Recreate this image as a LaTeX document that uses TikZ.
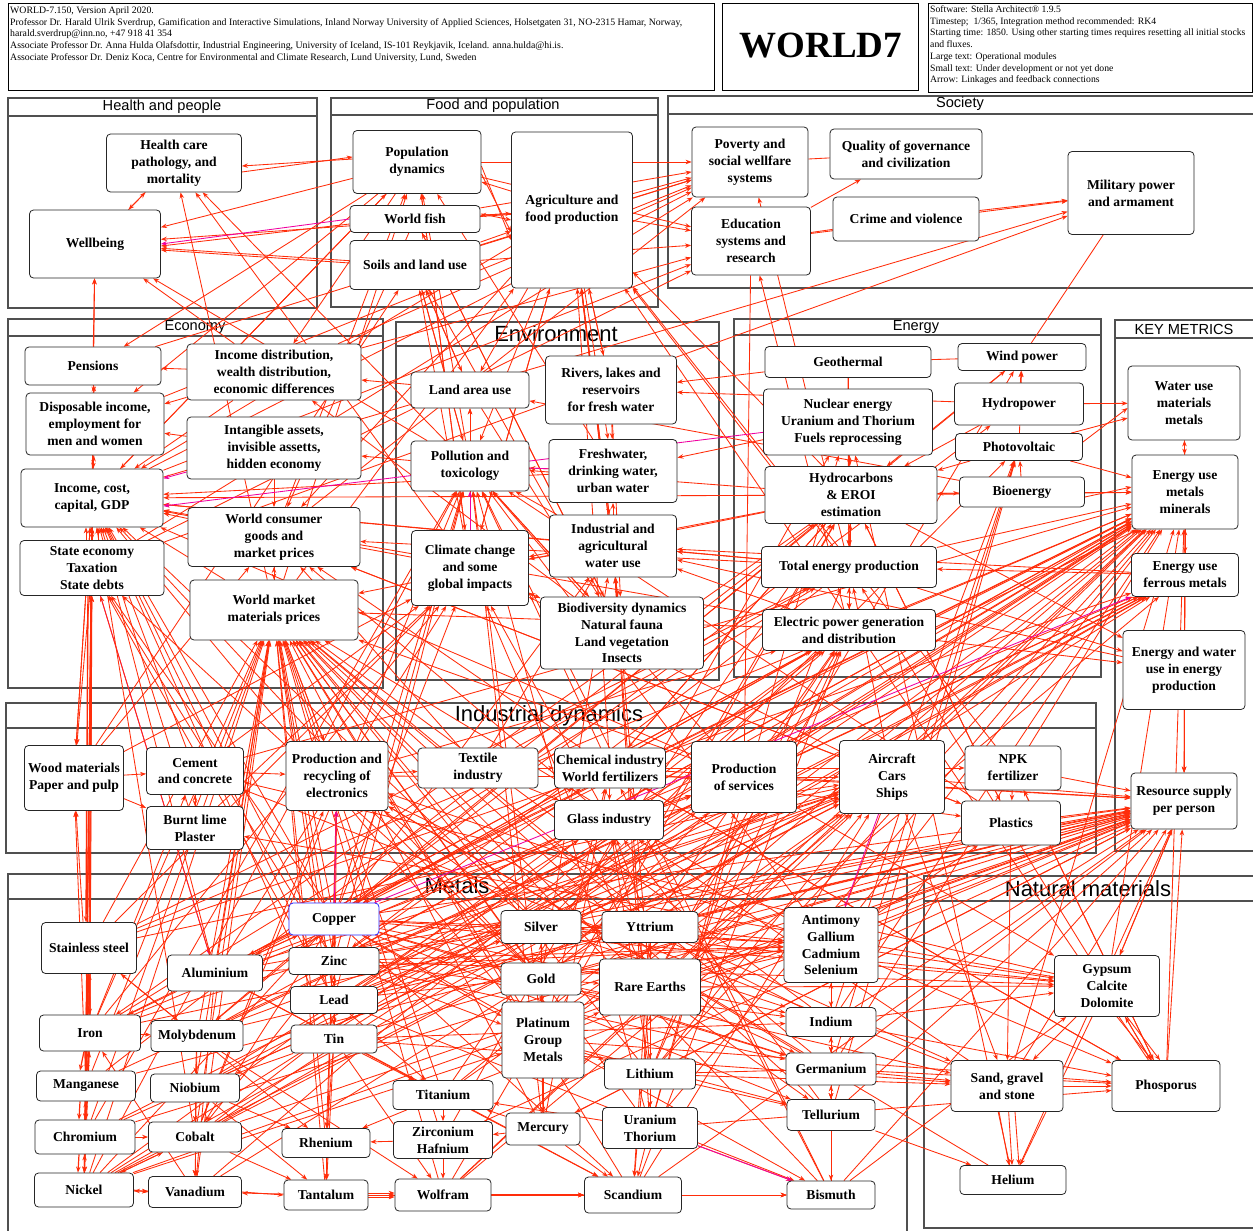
\documentclass[tikz,border=0pt]{standalone}
\usepackage{fontspec}
\setmainfont{Liberation Serif}
\newfontfamily\titlefont{Liberation Sans}
\usetikzlibrary{arrows.meta}
\definecolor{linkred}{RGB}{255,45,10}
\definecolor{linkpink}{RGB}{240,0,160}
\definecolor{framegray}{RGB}{80,80,80}
\definecolor{copperblue}{RGB}{40,40,255}
\pgfdeclarelayer{back}
\pgfdeclarelayer{links}
\pgfsetlayers{back,links,main}
\tikzset{
  box/.style={draw=black!85, fill=white, rounded corners=4pt, line width=0.8pt,
    align=center, inner sep=1pt, font=\bfseries\fontsize{13.6}{16.8}\selectfont},
  lk/.style={draw=linkred, line width=0.85pt, -{Stealth[length=6pt,width=4.5pt]}},
  lkp/.style={lk, draw=linkpink},
  ln/.style={draw=linkred, line width=0.85pt},
  modframe/.style={draw=framegray, line width=1.1pt},
  modtitle/.style={font=\titlefont\fontsize{14.6}{14.6}\selectfont},
  bigtitle/.style={font=\titlefont\fontsize{22}{22}\selectfont},
  headtext/.style={anchor=north west, align=left, inner sep=0pt},
}
\begin{document}
\begin{tikzpicture}[x=1pt,y=-1pt]
\useasboundingbox (0,0) rectangle (1253,1231);

% ---------- header ----------
\begin{pgfonlayer}{back}
\fill[white] (0,0) rectangle (1253,1231);
\draw[black, line width=1pt] (8,4) rectangle (714,90);
\draw[black, line width=1pt] (722,4) rectangle (918,90);
\draw[black, line width=1pt] (928,4) rectangle (1252,92);
\end{pgfonlayer}
\node[headtext, font=\fontsize{9.8}{11.7}\selectfont] (credits) at (10,6.5) {WORLD-7.150, Version April 2020.\\
Professor Dr. Harald Ulrik Sverdrup, Gamification and Interactive Simulations, Inland Norway University of Applied Sciences, Holsetgaten 31, NO-2315 Hamar, Norway,\\
harald.sverdrup@inn.no, +47 918 41 354\\
Associate Professor Dr. Anna Hulda Olafsdottir, Industrial Engineering, University of Iceland, IS-101 Reykjavik, Iceland. anna.hulda@hi.is.\\
Associate Professor Dr. Deniz Koca, Centre for Environmental and Climate Research, Lund University, Lund, Sweden};
\node[font=\bfseries\fontsize{37}{37}\selectfont] (logo) at (821,46) {WORLD7};
\node[headtext, font=\fontsize{9.7}{11.7}\selectfont] (software) at (930,5.5) {Software: Stella Architect® 1.9.5\\
Timestep;~ 1/365, Integration method recommended: RK4\\
Starting time: 1850. Using other starting times requires resetting all initial stocks\\
and fluxes.\\
Large text: Operational modules\\
Small text: Under development or not yet done\\
Arrow: Linkages and feedback connections};

% ---------- module frames ----------
\begin{pgfonlayer}{back}
\draw[modframe] (8,98) rectangle (317,308);   \draw[modframe] (8,116) -- (317,116);
\draw[modframe] (331,98) rectangle (658,307); \draw[modframe] (331,115) -- (658,115);
\draw[modframe] (668,96) rectangle (1258,288); \draw[modframe] (668,114) -- (1258,114);
\draw[modframe] (8,319) rectangle (383,688);  \draw[modframe] (8,336) -- (383,336);
\draw[modframe] (396,322) rectangle (719,680); \draw[modframe] (396,346) -- (719,346);
\draw[modframe] (734,319) rectangle (1101,677); \draw[modframe] (734,335) -- (1101,335);
\draw[modframe] (1115,320) rectangle (1258,851); \draw[modframe] (1115,338) -- (1258,338);
\draw[modframe] (6,703) rectangle (1096,853); \draw[modframe] (6,728) -- (1096,728);
\draw[modframe] (8,874) rectangle (907,1240); \draw[modframe] (8,899) -- (907,899);
\draw[modframe] (924,876) rectangle (1258,1228); \draw[modframe] (924,901) -- (1258,901);
\node[modtitle] (tHealth) at (162,107) {Health and people};
\node[modtitle] (tFood) at (493,106) {Food and population};
\node[modtitle] (tSociety) at (960,104) {Society};
\node[modtitle] (tEconomy) at (195,327) {Economy};
\node[bigtitle] (tEnv) at (556,334) {Environment};
\node[modtitle] (tEnergy) at (916,327) {Energy};
\node[modtitle] (tKey) at (1184,329) {KEY METRICS};
\node[bigtitle] (tInd) at (549,716) {Industrial dynamics};
\node[bigtitle] (tMetals) at (457,886) {Metals};
\node[bigtitle] (tNat) at (1088,889) {Natural materials};
\end{pgfonlayer}

% ---------- Health and people ----------
\node[box, minimum width=135pt, minimum height=58pt] (hcare) at (174,163) {Health care\\pathology, and\\mortality};
\node[box, minimum width=131pt, minimum height=68pt] (wellb) at (95,244) {Wellbeing};
% ---------- Food and population ----------
\node[box, minimum width=128pt, minimum height=63pt] (popd) at (417,162) {Population\\dynamics};
\node[box, minimum width=130pt, minimum height=27pt] (wfish) at (415,219) {World fish};
\node[box, minimum width=130pt, minimum height=49pt] (soil) at (415,265) {Soils and land use};
\node[box, minimum width=121pt, minimum height=156pt] (agri) at (572,210) {Agriculture and\\food production};
% ---------- Society ----------
\node[box, minimum width=116pt, minimum height=70pt] (pov) at (750,162) {Poverty and\\social wellfare\\systems};
\node[box, minimum width=152pt, minimum height=50pt] (gov) at (906,154) {Quality of governance\\and civilization};
\node[box, minimum width=119pt, minimum height=68pt] (edu) at (751,241) {Education\\systems and\\research};
\node[box, minimum width=146pt, minimum height=44pt] (crime) at (906,219) {Crime and violence};
\node[box, minimum width=126pt, minimum height=83pt] (mil) at (1131,193) {Military power\\and armament};
% ---------- Economy ----------
\node[box, minimum width=136pt, minimum height=38pt] (pens) at (93,366) {Pensions};
\node[box, minimum width=174pt, minimum height=56pt] (incd) at (274,372) {Income distribution,\\wealth distribution,\\economic differences};
\node[box, minimum width=138pt, minimum height=62pt] (disp) at (95,424) {Disposable income,\\employment for\\men and women};
\node[box, minimum width=174pt, minimum height=62pt] (intg) at (274,448) {Intangible assets,\\invisible assetts,\\hidden economy};
\node[box, minimum width=142pt, minimum height=58pt] (income) at (92,498) {Income, cost,\\capital, GDP};
\node[box, minimum width=172pt, minimum height=59pt] (wcg) at (274,537) {World consumer\\goods and\\market prices};
\node[box, minimum width=144pt, minimum height=55pt] (state) at (92,568) {State economy\\Taxation\\State debts};
\node[box, minimum width=168pt, minimum height=60pt] (wmp) at (274,610) {World market\\materials prices};
% ---------- Environment ----------
\node[box, minimum width=118pt, minimum height=36pt] (land) at (470,390) {Land area use};
\node[box, minimum width=131pt, minimum height=68pt] (rivers) at (611,390) {Rivers, lakes and\\reservoirs\\for fresh water};
\node[box, minimum width=118pt, minimum height=50pt] (pollu) at (470,466) {Pollution and\\toxicology};
\node[box, minimum width=128pt, minimum height=63pt] (fresh) at (613,471) {Freshwater,\\drinking water,\\urban water};
\node[box, minimum width=127pt, minimum height=62pt] (indw) at (613,546) {Industrial and\\agricultural\\water use};
\node[box, minimum width=117pt, minimum height=75pt] (climate) at (470,568) {Climate change\\and some\\global impacts};
\node[box, minimum width=163pt, minimum height=72pt] (biod) at (622,633) {Biodiversity dynamics\\Natural fauna\\Land vegetation\\Insects};
% ---------- Energy ----------
\node[box, minimum width=166pt, minimum height=31pt] (geo) at (848,362) {Geothermal};
\node[box, minimum width=128pt, minimum height=27pt] (wind) at (1022,357) {Wind power};
\node[box, minimum width=169pt, minimum height=66pt] (nuc) at (848,422) {Nuclear energy\\Uranium and Thorium\\Fuels reprocessing};
\node[box, minimum width=129pt, minimum height=42pt] (hydro) at (1019,404) {Hydropower};
\node[box, minimum width=127pt, minimum height=27pt] (pv) at (1019,447) {Photovoltaic};
\node[box, minimum width=172pt, minimum height=57pt] (hcarb) at (851,495) {Hydrocarbons\\\& EROI\\estimation};
\node[box, minimum width=125pt, minimum height=30pt] (bioe) at (1022,492) {Bioenergy};
\node[box, minimum width=175pt, minimum height=41pt] (toten) at (849,567) {Total energy production};
\node[box, minimum width=173pt, minimum height=41pt] (elec) at (849,630) {Electric power generation\\and distribution};
% ---------- Key metrics ----------
\node[box, minimum width=112pt, minimum height=74pt] (wuse) at (1184,403) {Water use\\materials\\metals};
\node[box, minimum width=106pt, minimum height=74pt] (euse) at (1185,492) {Energy use\\metals\\minerals};
\node[box, minimum width=107pt, minimum height=43pt] (eferr) at (1185,575) {Energy use\\ferrous metals};
\node[box, minimum width=122pt, minimum height=79pt] (ewat) at (1184,670) {Energy and water\\use in energy\\production};
\node[box, minimum width=106pt, minimum height=56pt] (rsup) at (1184,801) {Resource supply\\per person};
% ---------- Industrial dynamics ----------
\node[box, minimum width=99pt, minimum height=65pt] (wood) at (74,778) {Wood materials\\Paper and pulp};
\node[box, minimum width=97pt, minimum height=47pt] (cement) at (195,771) {Cement\\and concrete};
\node[box, minimum width=97pt, minimum height=43pt] (lime) at (195,828) {Burnt lime\\Plaster};
\node[box, minimum width=102pt, minimum height=69pt] (elecx) at (337,776) {Production and\\recycling of\\electronics};
\node[box, minimum width=120pt, minimum height=40pt] (textile) at (478,768) {Textile\\industry};
\node[box, minimum width=111pt, minimum height=40pt] (chem) at (610,768) {Chemical industry\\World fertilizers};
\node[box, minimum width=109pt, minimum height=39pt] (glass) at (609,820) {Glass industry};
\node[box, minimum width=105pt, minimum height=71pt] (serv) at (744,777) {Production\\of services};
\node[box, minimum width=105pt, minimum height=73pt] (cars) at (892,777) {Aircraft\\Cars\\Ships};
\node[box, minimum width=96pt, minimum height=44pt] (npk) at (1013,768) {NPK\\fertilizer};
\node[box, minimum width=99pt, minimum height=44pt] (plast) at (1011,823) {Plastics};
% ---------- Metals ----------
\node[box, draw=copperblue, minimum width=90pt, minimum height=32pt] (copper) at (334,919) {Copper};
\node[box, minimum width=95pt, minimum height=51pt] (sst) at (89,948) {Stainless steel};
\node[box, minimum width=95pt, minimum height=36pt] (alu) at (215,973) {Aluminium};
\node[box, minimum width=90pt, minimum height=27pt] (zinc) at (334,961) {Zinc};
\node[box, minimum width=87pt, minimum height=27pt] (lead) at (334,1000) {Lead};
\node[box, minimum width=101pt, minimum height=36pt] (iron) at (90,1033) {Iron};
\node[box, minimum width=92pt, minimum height=31pt] (moly) at (197,1036) {Molybdenum};
\node[box, minimum width=86pt, minimum height=28pt] (tin) at (334,1039) {Tin};
\node[box, minimum width=99pt, minimum height=30pt] (mang) at (86,1086) {Manganese};
\node[box, minimum width=89pt, minimum height=28pt] (niob) at (195,1088) {Niobium};
\node[box, minimum width=100pt, minimum height=34pt] (chrom) at (85,1137) {Chromium};
\node[box, minimum width=93pt, minimum height=30pt] (cobalt) at (195,1137) {Cobalt};
\node[box, minimum width=99pt, minimum height=34pt] (nickel) at (84,1190) {Nickel};
\node[box, minimum width=93pt, minimum height=31pt] (vana) at (195,1192) {Vanadium};
\node[box, minimum width=88pt, minimum height=29pt] (rhen) at (326,1143) {Rhenium};
\node[box, minimum width=84pt, minimum height=30pt] (tant) at (326,1195) {Tantalum};
\node[box, minimum width=100pt, minimum height=29pt] (tita) at (443,1095) {Titanium};
\node[box, minimum width=99pt, minimum height=37pt] (zirc) at (443,1140) {Zirconium\\Hafnium};
\node[box, minimum width=96pt, minimum height=32pt] (wolf) at (443,1195) {Wolfram};
\node[box, minimum width=80pt, minimum height=33pt] (silver) at (541,927) {Silver};
\node[box, minimum width=96pt, minimum height=31pt] (ytt) at (650,927) {Yttrium};
\node[box, minimum width=80pt, minimum height=32pt] (gold) at (541,979) {Gold};
\node[box, minimum width=101pt, minimum height=56pt] (ree) at (650,987) {Rare Earths};
\node[box, minimum width=82pt, minimum height=76pt] (pgm) at (543,1040) {Platinum\\Group\\Metals};
\node[box, minimum width=91pt, minimum height=30pt] (lith) at (650,1074) {Lithium};
\node[box, minimum width=74pt, minimum height=32pt] (merc) at (543,1129) {Mercury};
\node[box, minimum width=95pt, minimum height=41pt] (uran) at (650,1128) {Uranium\\Thorium};
\node[box, minimum width=97pt, minimum height=36pt] (scan) at (633,1195) {Scandium};
\node[box, minimum width=94pt, minimum height=75pt] (antim) at (831,945) {Antimony\\Gallium\\Cadmium\\Selenium};
\node[box, minimum width=90pt, minimum height=29pt] (indium) at (831,1022) {Indium};
\node[box, minimum width=90pt, minimum height=32pt] (germ) at (831,1069) {Germanium};
\node[box, minimum width=88pt, minimum height=31pt] (tell) at (831,1115) {Tellurium};
\node[box, minimum width=88pt, minimum height=28pt] (bism) at (831,1195) {Bismuth};
% ---------- Natural materials ----------
\node[box, minimum width=105pt, minimum height=61pt] (gyps) at (1107,986) {Gypsum\\Calcite\\Dolomite};
\node[box, minimum width=112pt, minimum height=51pt] (sand) at (1007,1086) {Sand, gravel\\and stone};
\node[box, minimum width=108pt, minimum height=51pt] (phos) at (1166,1086) {Phosporus};
\node[box, minimum width=106pt, minimum height=29pt] (hel) at (1013,1180) {Helium};

% ---------- linkages and feedback connections ----------
\begin{pgfonlayer}{links}
% health, food and society
\draw[lk] ([yshift=-9pt]hcare.east) -- ([yshift=5pt]popd.west);
\draw[lk] ([yshift=3pt]popd.west) -- ([yshift=-3pt]hcare.east);
\foreach \a/\b in {hcare/wellb, wellb/hcare, popd/wellb, soil/wellb, agri/wellb,
  pens/wellb, incd/wellb, income/wellb, pollu/wellb, climate/hcare, pollu/hcare,
  wmp/hcare, wfish/agri, soil/agri, agri/popd, agri/wfish, agri/pov, popd/pov,
  agri/edu, popd/edu, wfish/pov, soil/edu, soil/pov, edu/gov, crime/mil, edu/mil,
  income/mil, state/mil, popd/pens, popd/disp, popd/incd, popd/income, agri/income,
  agri/wcg, wfish/wcg, soil/land, agri/land, soil/pollu, agri/pollu, agri/rivers,
  agri/fresh, agri/indw, agri/biod, agri/climate, popd/climate, wfish/biod,
  climate/agri, rivers/agri, fresh/popd, indw/agri, biod/wfish, climate/popd,
  pollu/popd, biod/agri, climate/soil, land/soil, pollu/soil, wcg/popd,
  income/popd, incd/pov, income/pov, income/edu, disp/pov, state/edu, pens/pov,
  wcg/pov, state/pov, toten/pov, elec/edu, incd/edu, toten/agri, hcarb/agri,
  phos/agri, npk/agri, chem/agri, wood/soil, biod/soil, wmp/agri, wmp/popd}
  {\draw[lk] (\a) -- (\b);}
\draw[lk] ([yshift=-4pt]popd.east) -- ([yshift=-30pt]agri.west);
\draw[lk] ([yshift=-12pt]popd.east) -- ([yshift=-22pt]agri.west);
\draw[lk] ([yshift=-20pt]popd.south east) -- ([yshift=-10pt]agri.west);
\draw[lk] ([yshift=2pt]soil.west) -- ([yshift=-6pt]wellb.east);
\draw[lk] ([yshift=-5pt]wfish.west) -- ([yshift=-2pt]wellb.east);
\draw[lkp] (wfish.west) -- (wellb.east);
\foreach \a/\b in {pov/gov, edu/crime, mil/wind, geo/nuc, geo/wind, edu/serv, ewat/eferr}
  {\draw[ln] (\a) -- (\b);}
% economy
\foreach \a/\b in {incd/disp, disp/pens, pens/disp, disp/income, income/disp, wcg/income,
  wmp/income, state/income, income/state, incd/income, intg/disp, incd/pens,
  wmp/wcg, wcg/wmp, intg/wcg, hcarb/income, toten/income, elec/income, fresh/income,
  climate/income, toten/wcg, elec/wmp, hcarb/wmp, serv/income, cement/income,
  lime/income, textile/wcg, chem/wcg, cars/wcg, plast/wcg, glass/wcg, wood/wcg,
  elecx/wmp, wmp/elecx, serv/wmp, income/wood, state/wood, wood/income,
  indw/income, biod/incd, pollu/intg, land/incd}
  {\draw[lk] (\a) -- (\b);}
\draw[lk] ([xshift=-6pt]state.north) -- ([xshift=-6pt]income.south);
\draw[lk] ([xshift=6pt]state.north) -- ([xshift=6pt]income.south);
\draw[lkp] (intg) -- (income);
\draw[lkp] (nuc) -- ([yshift=-8pt]income.east);
\draw[lkp] (state) -- (alu);
% environment
\foreach \a/\b in {pollu/land, fresh/pollu, rivers/fresh, indw/fresh, indw/climate,
  biod/climate, climate/biod, pollu/biod, land/biod, indw/pollu, biod/pollu,
  climate/land, rivers/biod, hcarb/climate, hcarb/pollu, geo/rivers, hydro/rivers,
  toten/indw, elec/indw, bioe/land, nuc/fresh, ewat/indw, eferr/indw,
  cement/climate, lime/climate, chem/pollu, plast/pollu, textile/indw, cars/climate,
  serv/pollu, glass/climate, wood/climate}
  {\draw[lk] (\a) -- (\b);}
\draw[lkp] (climate) -- (pollu);
\draw[ln, draw=linkpink] (pollu) -- (fresh);
% energy and key metrics
\foreach \a/\b in {nuc/hcarb, hcarb/nuc, hydro/wind, pv/wind, bioe/pv, hcarb/bioe,
  bioe/hcarb, pv/hcarb, hydro/hcarb, wind/hcarb, hcarb/toten, toten/hcarb,
  toten/elec, elec/toten, hcarb/elec, pv/wuse, hydro/wuse, pv/euse, bioe/euse,
  hcarb/euse, elec/euse, toten/euse, euse/wuse, wuse/euse, euse/eferr, eferr/euse,
  eferr/toten, elec/ewat, toten/ewat, hcarb/ewat, nuc/toten, geo/toten,
  ewat/rsup, eferr/rsup, euse/rsup, npk/rsup, cars/rsup, plast/rsup, serv/rsup,
  chem/rsup, cars/toten, cars/euse, glass/euse, cement/euse, elecx/elec,
  serv/elec, textile/toten, chem/hcarb, plast/hcarb, hcarb/chem, hcarb/plast}
  {\draw[lk] (\a) -- (\b);}
\draw[lk] ([yshift=-5pt]bioe.east) -- ([yshift=5pt]euse.west);
\draw[lk] ([yshift=5pt]pv.east) -- ([yshift=-5pt]wuse.west);
\draw[lk] ([yshift=3pt]elec.east) -- ([xshift=6pt]euse.south west);
% industrial dynamics
\foreach \a/\b in {wood/cement, wood/lime, cement/lime, lime/cement, elecx/textile,
  textile/chem, chem/glass, chem/npk, cars/plast, npk/plast, serv/cars, elecx/serv,
  chem/plast, textile/glass, cement/elecx, glass/cars}
  {\draw[lk] (\a) -- (\b);}
% metals to prices, energy use and resource supply
\foreach \m in {copper, zinc, lead, tin, sst, alu, iron, moly, mang, niob, chrom,
  cobalt, nickel, vana, rhen, tant, tita, zirc, wolf, silver, ytt, gold, ree, pgm,
  lith, merc, uran, scan, antim, indium, germ, tell, bism}
  {\draw[lk] (\m) -- (wmp);}
\foreach \m in {copper, zinc, lead, tin, alu, iron, moly, niob, cobalt, nickel,
  silver, gold, pgm, ree, lith, uran, antim, germ, indium, tita, wolf, sst, gyps,
  sand, phos}
  {\draw[lk] (\m) -- (euse);}
\foreach \m in {copper, zinc, lead, tin, alu, iron, nickel, chrom, cobalt, silver,
  gold, pgm, ree, ytt, lith, antim, indium, germ, tell, merc, scan, bism, tita,
  zirc, moly, mang, sand, gyps, phos, hel}
  {\draw[lk] (\m) -- (rsup);}
\foreach \m in {iron, sst, mang, chrom, nickel, moly, vana, niob, cobalt, wolf}
  {\draw[lk] (\m) -- (eferr);}
\foreach \m in {copper, zinc, lead, alu, iron, nickel, gold, silver, pgm, sst, tin,
  cobalt, mang, chrom}
  {\draw[lk] (\m) -- (income);}
\foreach \m in {copper, alu, iron, sst, nickel, zinc, lead, gold}
  {\draw[lk] (\m) -- (state);}
\foreach \m in {copper, zinc, lead, merc, uran, cobalt, nickel, pgm, chrom, antim, bism}
  {\draw[lk] (\m) -- (pollu);}
\foreach \m in {iron, alu, sst, copper, ree}
  {\draw[lk] (\m) -- (climate);}
\foreach \m in {copper, gold, lith, ree, uran}
  {\draw[lk] (\m) -- (indw);}
\foreach \a/\b in {ree/wind, copper/wind, copper/elec, alu/elec, silver/pv,
  indium/pv, germ/pv, tell/pv, antim/pv, uran/nuc, lith/elec, cobalt/elec,
  nickel/elec, moly/hcarb, mang/hcarb, pgm/hcarb, ytt/elec, wolf/hcarb, iron/toten,
  sst/toten, hcarb/iron, elec/alu, elec/copper, toten/zinc, scan/elec, tita/hcarb,
  zirc/nuc, hel/nuc, copper/hydro, ree/elec, lith/toten, gyps/toten, vana/elec}
  {\draw[lk] (\a) -- (\b);}
\foreach \a/\b in {copper/elecx, gold/elecx, silver/elecx, pgm/cars, alu/cars,
  iron/cars, sst/cars, tita/cars, lith/cars, ree/cars, antim/elecx, indium/elecx,
  tin/elecx, lead/cars, zinc/cars, copper/chem, pgm/chem, sand/glass, sand/cement,
  gyps/cement, gyps/lime, phos/npk, phos/chem, hel/elecx, germ/elecx, tell/glass,
  iron/cement, alu/serv, copper/serv, nickel/cars, cobalt/cars, moly/cars,
  chrom/cars, wolf/cars, niob/cars, ytt/glass, ree/glass, tant/elecx, gold/serv,
  silver/serv, merc/chem, zinc/chem, lead/glass, scan/cars, lith/glass,
  antim/plast, bism/chem, iron/wood, mang/wood, cobalt/elecx, uran/serv}
  {\draw[lk] (\a) -- (\b);}
\draw[lkp] (cars) -- (antim);
\draw[lkp] (copper) -- (elecx);
\draw[lkp] (copper) -- (eferr);
% co-products and couplings among metals
\foreach \a/\b in {copper/silver, copper/gold, copper/moly, copper/rhen,
  copper/tell, copper/antim, copper/pgm, copper/cobalt, copper/zinc, copper/lead,
  copper/tin, copper/alu, copper/bism, copper/scan, copper/germ, copper/indium,
  zinc/lead, zinc/indium, zinc/germ, zinc/antim, zinc/silver, zinc/cobalt,
  lead/silver, lead/bism, lead/antim, lead/zinc, tin/indium, tin/wolf, tin/tant,
  tin/niob, iron/sst, sst/iron, mang/sst, chrom/sst, nickel/sst, moly/sst,
  chrom/mang, mang/chrom, nickel/chrom, chrom/nickel, nickel/cobalt, nickel/pgm,
  nickel/copper, cobalt/nickel, chrom/cobalt, vana/nickel, nickel/vana, vana/iron,
  moly/rhen, rhen/tant, tant/wolf, wolf/scan, scan/bism, tita/zirc, zirc/wolf,
  tita/scan, ree/ytt, ytt/ree, ree/lith, ree/uran, ree/scan, uran/scan,
  uran/bism, uran/ree, pgm/gold, gold/silver, silver/gold, pgm/merc, merc/scan,
  gold/merc, lith/uran, antim/indium, antim/germ, indium/germ, germ/tell,
  tell/bism, bism/antim, niob/tant, niob/cobalt, niob/vana, moly/niob,
  alu/antim, alu/vana, alu/scan, alu/copper, tant/vana, cobalt/vana, chrom/iron,
  mang/iron, iron/mang, moly/wolf, iron/moly, alu/tita, ytt/scan,
  pgm/lith, gold/pgm, silver/pgm, ree/germ, ree/tell, lith/tell, pgm/tell,
  silver/indium, gold/germ, ytt/antim, ree/antim, lith/germ, merc/tita,
  zirc/rhen, tita/rhen, niob/rhen, cobalt/tant, moly/vana, iron/chrom,
  iron/nickel, sst/nickel, sst/chrom, sst/mang, sst/moly, alu/iron, zinc/tin,
  lead/tin, tin/lead, tin/rhen, tin/tita, lead/tita, zinc/pgm, silver/ytt,
  gold/ree, pgm/ree, merc/zirc, uran/tita, wolf/bism, tant/scan, germ/indium,
  indium/tell, antim/tell, tell/germ, silver/antim, gold/antim, lith/merc}
  {\draw[lk] (\a) -- (\b);}
\draw[lkp] (uran) -- (bism);
% natural materials
\foreach \a/\b in {gyps/sand, gyps/phos, sand/hel, gyps/hel, sand/phos, antim/gyps,
  indium/gyps, germ/sand, tell/hel, indium/phos, antim/phos, ree/gyps, ytt/sand,
  zinc/gyps, silver/gyps, gold/sand, lith/sand, pgm/phos, uran/phos, germ/phos,
  bism/gyps, copper/gyps, tin/sand, phos/gyps, cars/sand, serv/gyps, npk/phos,
  plast/sand, chem/phos, rsup/gyps}
  {\draw[lk] (\a) -- (\b);}
\draw[lk] ([xshift=-8pt]sand.south) -- ([xshift=-4pt]hel.north);
\draw[lk] ([xshift=8pt]sand.south) -- ([xshift=6pt]hel.north);
\draw[lk] ([xshift=10pt]gyps.south) -- ([xshift=-14pt]phos.north);
\draw[lk] ([xshift=20pt]gyps.south) -- ([xshift=-6pt]phos.north);
% long feeds along the left and bottom edges
\draw[lk, line width=1.4pt] ([xshift=-4pt]state.south) -- ([xshift=-3pt]sst.north);
\draw[lk, line width=1.4pt] ([xshift=-2pt]sst.south) -- ([xshift=-2pt]iron.north);
\draw[lk, line width=1.2pt] ([xshift=-6pt]iron.south) -- ([xshift=-6pt]mang.north);
\draw[lk, line width=1.2pt] ([xshift=-6pt]mang.south) -- ([xshift=-6pt]chrom.north);
\draw[lk, line width=1.2pt] ([xshift=-6pt]chrom.south) -- ([xshift=-6pt]nickel.north);
\draw[lk] (nickel.east) -- (vana.west);
\draw[lk] (vana.east) -- (tant.west);
\draw[lk] ([yshift=-2pt]tant.east) -- ([yshift=-2pt]wolf.west);
\draw[lk] ([yshift=2pt]tant.east) -- ([yshift=2pt]wolf.west);
\draw[lk, line width=1.2pt] (wolf.east) -- (scan.west);
\draw[lk] (scan.east) -- (bism.west);
\end{pgfonlayer}
\end{tikzpicture}
\end{document}
